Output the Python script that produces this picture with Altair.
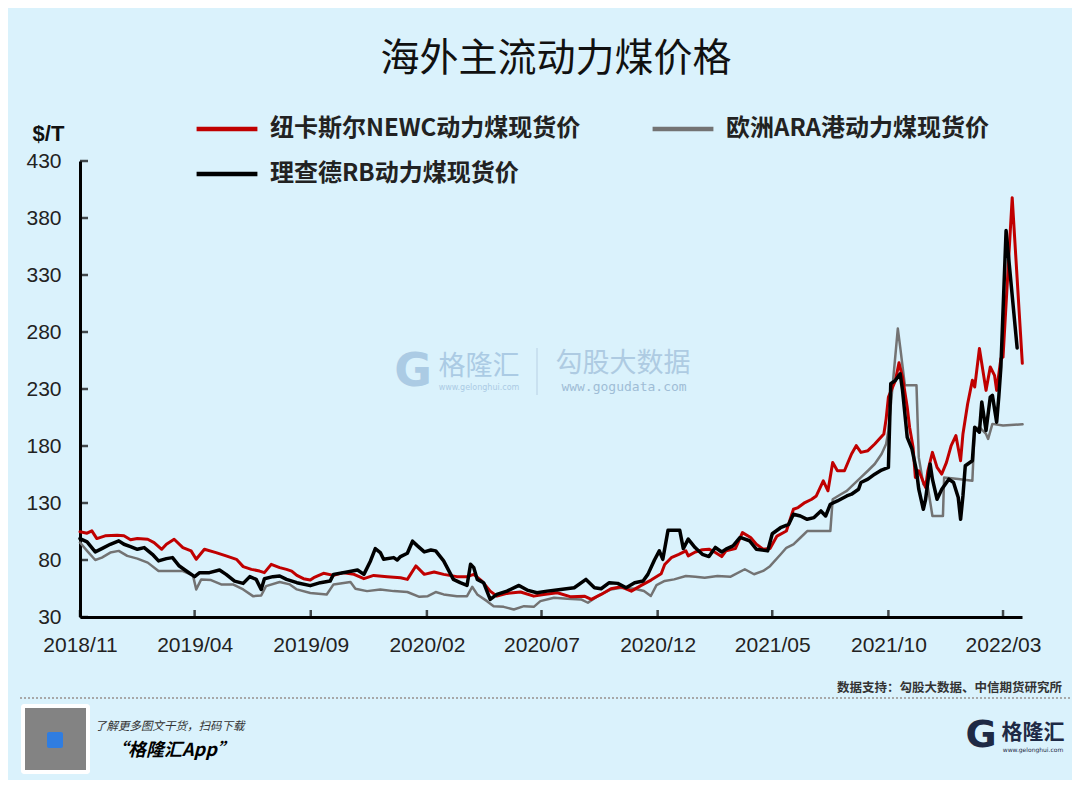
import altair as alt
import pandas as pd
import calendar

S_NEWC = "纽卡斯尔NEWC动力煤现货价"
S_ARA = "欧洲ARA港动力煤现货价"
S_RB = "理查德RB动力煤现货价"

# x positions are months elapsed since 2018-11-01
newc_months = [0, 0.31, 0.52, 0.74, 1.10, 1.61, 1.90, 2.18, 2.47, 2.91, 3.20, 3.56, 3.78, 4.13, 4.50,
               4.85, 5.07, 5.43, 5.94, 6.37, 6.81, 7.10, 7.46, 7.82, 8.03, 8.32, 8.68, 8.97, 9.19, 9.41,
               9.69, 9.98, 10.13, 10.56, 11.0, 11.43, 11.87, 12.30, 12.73, 13.31, 13.88, 14.17, 14.53,
               14.89, 15.33, 15.76, 16.34, 16.77, 17.06, 17.42, 17.78, 18.07, 18.5, 19.08, 19.66, 20.09,
               20.67, 21.25, 21.82, 22.12, 22.55, 22.98, 23.42, 23.85, 24.28, 24.71, 25.15, 25.3, 25.58,
               25.9, 26.2, 26.3, 26.6, 26.9, 27.2, 27.5, 27.8, 28.0, 28.4, 28.7, 29.05, 29.3, 29.6, 29.9,
               30.2, 30.6, 30.9, 31.1, 31.4, 31.7, 31.9, 32.2, 32.4, 32.6, 32.8, 33.1, 33.4, 33.6, 33.8,
               34.1, 34.4, 34.8, 34.9, 35.0, 35.3, 35.45, 35.6, 35.8, 35.9, 36.05, 36.15, 36.3, 36.6,
               36.7, 36.9, 37.1, 37.3, 37.5, 37.7, 37.9, 38.1, 38.2, 38.4, 38.6, 38.7, 38.9, 39.2, 39.4,
               39.6, 39.7, 39.9, 40.0, 40.39, 40.82]
newc_price = [104.7, 103.5, 105.6, 98.8, 101.2, 101.8, 101.2, 97.7, 98.8, 98.2, 95.3, 89.4, 93.8, 98.2,
              90.9, 88, 80.6, 89.4, 86.5, 83.6, 80.6, 74.2, 71.8, 70.3, 68.9, 76.2, 73.3, 71.8, 70.3, 66.5,
              63.6, 62.4, 64.5, 68.3, 66.5, 68.9, 67.4, 63.6, 66.5, 65.4, 64.5, 63, 74.8, 67.4, 69.5, 67.4,
              65.4, 65.4, 67.4, 61.5, 52.7, 48.3, 50.7, 51.9, 48.3, 49.8, 51.3, 47.7, 48.3, 45.4, 49.8,
              54.8, 56.5, 52.7, 57.7, 62.4, 68, 76, 82, 85, 88, 83.6, 87, 89, 89.5, 86.6, 83, 88, 90, 104,
              99.8, 93.9, 89.5, 90, 101, 105.4, 124.5, 126, 130.4, 133.3, 136.2, 149.5, 140.7, 165.6,
              158.3, 158.3, 173, 180.3, 174.4, 175.9, 181.8, 190.6, 203.8, 222.9, 237.6, 253, 240.5, 214,
              196.5, 178.8, 152.4, 158.3, 143.6, 158.3, 174.4, 161.2, 155.4, 165.6, 180.3, 189.1, 167.1,
              190.6, 217, 237.6, 231.7, 265.5, 228.8, 249.3, 242, 228.8, 256.7, 258, 397.8, 252.5]

ara_months = [0, 0.31, 0.67, 0.96, 1.32, 1.68, 2.04, 2.47, 2.91, 3.41, 3.92, 4.50, 4.93, 5.07, 5.29,
              5.72, 6.16, 6.66, 7.10, 7.53, 7.89, 8.10, 8.68, 9.11, 9.41, 9.98, 10.70, 11.0, 11.72,
              11.93, 12.44, 13.02, 13.59, 14.17, 14.68, 15.04, 15.40, 15.76, 16.34, 16.77, 16.99, 17.21,
              17.64, 17.93, 18.36, 18.79, 19.23, 19.66, 19.95, 20.53, 21.10, 21.68, 21.97, 22.40, 22.98,
              23.42, 23.99, 24.4, 24.7, 24.95, 25.3, 25.7, 26.2, 26.6, 27.0, 27.6, 28.2, 28.8, 29.2,
              29.6, 29.9, 30.35, 30.6, 30.9, 31.2, 31.5, 32.5, 32.6, 32.95, 33.2, 33.5, 33.8, 34.1, 34.4,
              34.7, 34.9, 35.0, 35.2, 35.4, 35.5, 35.7, 36.2, 36.3, 36.5, 36.7, 36.9, 37.35, 37.4, 38.0,
              38.6, 38.7, 38.9, 39.2, 39.3, 39.5, 40.0, 40.83]
ara_price = [95.3, 88, 80, 82.1, 86.5, 88, 83.6, 81.2, 77.7, 70.3, 70.3, 70.3, 66.5, 54.2, 63, 62.4,
             58.6, 58.6, 54.2, 48.3, 48.9, 57.1, 60.7, 58.6, 54.2, 51, 49.8, 58.6, 60.7, 54.8, 52.7, 54.2,
             52.7, 51.9, 47.7, 48.3, 51.9, 49.8, 48.3, 48.3, 56.5, 49.8, 43.9, 39.5, 38.9, 36.6, 39.5,
             38.9, 43.9, 46.9, 46, 45.4, 42.5, 48.3, 54.2, 55.7, 54.8, 52.8, 48.4, 58, 61.6, 63, 66, 65.4,
             64.5, 66, 65.4, 71.9, 67.5, 70.4, 74.6, 84.8, 90.7, 93.7, 99.5, 105.4, 105.4, 133.3, 137.7,
             140.7, 146.5, 152.4, 158.3, 164.2, 173, 181.8, 193.5, 237.6, 283, 267, 233.2, 233.2, 170,
             146.5, 143.6, 118.6, 118.6, 152.4, 151, 149.5, 195, 196.5, 190.6, 186.2, 199.4, 198, 199]

rb_months = [0, 0.31, 0.67, 0.96, 1.32, 1.68, 1.90, 2.18, 2.47, 2.76, 3.12, 3.41, 3.78, 4.06, 4.35,
             4.71, 5.00, 5.22, 5.65, 6.09, 6.37, 6.73, 7.10, 7.39, 7.67, 7.89, 8.03, 8.39, 8.68, 8.97,
             9.41, 9.98, 10.42, 10.85, 11.0, 11.58, 12.02, 12.30, 12.59, 12.80, 13.02, 13.16, 13.59,
             13.74, 13.88, 14.17, 14.39, 14.60, 14.89, 15.18, 15.40, 15.76, 16.19, 16.48, 16.77, 16.92,
             17.06, 17.21, 17.49, 17.78, 18.07, 18.50, 19.01, 19.37, 19.80, 20.24, 20.81, 21.39, 21.89,
             22.26, 22.55, 22.91, 23.27, 23.63, 23.99, 24.36, 24.57, 24.86, 25.07, 25.22, 25.44, 25.94,
             26.09, 26.30, 26.59, 26.9, 27.2, 27.5, 27.8, 28.0, 28.3, 28.6, 29.0, 29.3, 29.8, 30.0,
             30.35, 30.7, 30.9, 31.2, 31.5, 31.8, 32.1, 32.3, 32.5, 32.8, 33.2, 33.4, 33.7, 33.8, 34.1,
             34.4, 34.7, 35.0, 35.1, 35.3, 35.5, 35.6, 35.8, 36.0, 36.2, 36.3, 36.5, 36.6, 36.8, 36.9,
             37.1, 37.3, 37.6, 37.8, 38.0, 38.1, 38.2, 38.3, 38.6, 38.7, 38.9, 39.0, 39.2, 39.4, 39.5,
             39.7, 39.8, 39.9, 40.13, 40.6]
rb_price = [98.8, 95.9, 87.1, 90, 93.8, 96.8, 93.8, 91.8, 89.4, 90.9, 85, 79.2, 81.2, 82.1, 74.7, 69.5,
            65.4, 68.9, 68.9, 71.2, 67.4, 61.5, 59.5, 65.4, 63, 54.2, 63.6, 65.4, 66, 63, 60.1, 57.5,
            60.1, 61.5, 67.4, 69.5, 71.2, 67.4, 79.2, 90, 86.5, 80.6, 82.1, 80, 83, 85.9, 96.5, 92.4,
            87.1, 88.8, 88, 79.2, 63, 60.1, 57.7, 76.2, 73.3, 63, 60.1, 45.4, 49.8, 52.7, 57.7, 53.6,
            51.3, 52.7, 54.2, 55.7, 63, 55.7, 54.8, 60.1, 59.5, 55.7, 60.1, 61.5, 67.4, 80, 88, 80.6,
            106, 106, 90, 98.3, 90.9, 85, 83, 91, 87, 89.5, 92.4, 99.8, 96.9, 89.5, 88, 103, 108.3,
            111.3, 120.1, 118.6, 115.7, 117.2, 123, 118.6, 128.9, 131.8, 136.2, 137.7, 142.1, 148,
            150.9, 155.3, 158.9, 161.2, 234.6, 237.6, 243.4, 228.8, 187.6, 177.4, 158.3, 142.1, 124.5,
            133.3, 164.2, 150.9, 133.3, 142.1, 150.9, 148, 134.8, 115.7, 136.2, 162.7, 167.1, 196.5,
            192.1, 218.5, 193.5, 222.9, 224.4, 200.9, 222.9, 249.3, 369, 266]

x_tick_dates = ["2018-11-01", "2019-04-01", "2019-09-01", "2020-02-01", "2020-07-01",
                "2020-12-01", "2021-05-01", "2021-10-01", "2022-03-01"]
y_tick_values = [30, 80, 130, 180, 230, 280, 330, 380, 430]

# legend is filled column by column: NEWC / RB in the first column, ARA in the second
legend_order = [S_NEWC, S_RB, S_ARA]
legend_colors = ["#c00000", "#000000", "#737373"]

FONT_CJK = "Noto Sans CJK SC"
FONT_NUM = "Liberation Sans"


def month_to_ts(m):
    k = int(m)
    frac = m - k
    year = 2018 + (10 + k) // 12
    month = (10 + k) % 12 + 1
    days = calendar.monthrange(year, month)[1]
    ts = pd.Timestamp(year, month, 1) + pd.Timedelta(days=frac * days)
    return ts.strftime("%Y-%m-%dT%H:%M:%S")


def frame(months, prices, name):
    return pd.DataFrame({"date": [month_to_ts(m) for m in months], "price": prices, "series": name})


df_newc = frame(newc_months, newc_price, S_NEWC)
df_ara = frame(ara_months, ara_price, S_ARA)
df_rb = frame(rb_months, rb_price, S_RB)


def dt(s):
    y, m, d = [int(v) for v in s.split("-")]
    return alt.DateTime(year=y, month=m, date=d)


X = alt.X("date:T",
          scale=alt.Scale(domain=[dt("2018-11-01"), dt("2022-03-26")]),
          axis=alt.Axis(values=[dt(s) for s in x_tick_dates], format="%Y/%m", title=None,
                        labelFont=FONT_NUM, labelFontSize=21, labelColor="#222222",
                        labelPadding=17, tickSize=0, domainColor="#000000", domainWidth=3,
                        grid=False, labelFlush=False, labelOverlap=False))
Y = alt.Y("price:Q",
          scale=alt.Scale(domain=[30, 430], nice=False, zero=False),
          axis=alt.Axis(values=y_tick_values, title="$/T", titleAngle=0, titleX=-32, titleY=-28,
                        titleAlign="center", titleBaseline="middle", titleFont=FONT_NUM,
                        titleFontSize=22, titleFontWeight="bold", titleColor="#111111",
                        labelFont=FONT_NUM, labelFontSize=21, labelColor="#222222",
                        labelPadding=19, tickSize=0, domainColor="#000000", domainWidth=3,
                        grid=False))

legend = alt.Legend(orient="none", legendX=114, legendY=-65, columns=2, title=None,
                    symbolType="stroke", symbolSize=3700, symbolStrokeWidth=4.5,
                    labelFont=FONT_CJK, labelFontSize=24, labelFontWeight="bold",
                    labelColor="#222222", labelLimit=600, labelOffset=10,
                    columnPadding=62, rowPadding=-2, padding=0)
C = alt.Color("series:N", scale=alt.Scale(domain=legend_order, range=legend_colors), legend=legend)


def line_layer(df, sw):
    return alt.Chart(df).mark_line(strokeWidth=sw, strokeJoin="round", strokeCap="round").encode(
        x=X, y=Y, color=C)


ticks_x = alt.Chart(pd.DataFrame({"date": [s + "T00:00:00" for s in x_tick_dates],
                                  "price": [30] * len(x_tick_dates)})).mark_tick(
    orient="vertical", size=7, thickness=2.5, color="#000000", yOffset=-3.5).encode(x=X, y=Y)
ticks_y = alt.Chart(pd.DataFrame({"date": [x_tick_dates[0] + "T00:00:00"] * len(y_tick_values),
                                  "price": y_tick_values})).mark_tick(
    orient="horizontal", size=8, thickness=2.5, color="#000000", xOffset=4).encode(x=X, y=Y)

one = pd.DataFrame({"k": [0]})


def txt(text, x, y, size, color="#000000", font=FONT_CJK, weight="normal", align="center",
        style="normal", opacity=1.0):
    return alt.Chart(one).mark_text(text=text, fontSize=size, font=font, fontWeight=weight,
                                    align=align, baseline="middle", color=color, fontStyle=style,
                                    opacity=opacity).encode(x=alt.value(x), y=alt.value(y))


def box(x, x2, y, y2, color, radius=0, opacity=1.0):
    return alt.Chart(one).mark_rect(color=color, cornerRadius=radius, opacity=opacity).encode(
        x=alt.value(x), x2=alt.value(x2), y=alt.value(y), y2=alt.value(y2))


# offsets: plot origin is at page (80, 161)
title = txt("海外主流动力煤价格", 476, -102, 39, color="#111111")

wm_color = "#abcbe4"
watermark = [
    txt("G", 333, 211, 46, color=wm_color, font="DejaVu Sans", weight="bold"),
    txt("格隆汇", 399, 206, 27, color=wm_color),
    txt("www.gelonghui.com", 399, 227, 8, color=wm_color, font="DejaVu Sans"),
    alt.Chart(one).mark_rule(color="#c3dbec", strokeWidth=1.5).encode(
        x=alt.value(457), y=alt.value(187), y2=alt.value(234)),
    txt("勾股大数据", 543, 203, 27, color="#aecbe2"),
    txt("www.gogudata.com", 544, 226, 13, color="#9fbdd6", font="DejaVu Sans Mono"),
]

footer = [
    txt("数据支持：勾股大数据、中信期货研究所", 982, 527, 12.5, color="#333333", weight="bold",
        align="right"),
    alt.Chart(one).mark_rule(color="#a8a8a8", strokeWidth=2, strokeDash=[2, 2]).encode(
        x=alt.value(-60), x2=alt.value(990), y=alt.value(537)),
    box(-59, 10, 543, 613, "#ffffff", radius=3),
    box(-55, 6, 547, 609, "#5a5a5a", opacity=0.75),
    box(-33, -17, 571, 587, "#2f7de1", radius=2),
    txt("了解更多图文干货，扫码下载", 15, 566, 11.5, color="#333333", align="left", style="italic"),
    txt("“格隆汇App”", 30, 590, 18, color="#000000", weight="bold", align="left", style="italic"),
    txt("G", 901, 575, 38, color="#1e2a45", font="DejaVu Sans", weight="bold"),
    txt("格隆汇", 953, 572, 21, color="#1e2a45", weight="bold"),
    txt("www.gelonghui.com", 953, 589, 6, color="#1e2a45", font="DejaVu Sans"),
]

chart = alt.layer(
    line_layer(df_ara, 2.5),
    line_layer(df_newc, 3.0),
    line_layer(df_rb, 3.5),
    ticks_x, ticks_y,
    title, *watermark, *footer,
).properties(
    width=942, height=456,
    padding={"left": 72, "top": 153, "right": 50, "bottom": 163},
    autosize=alt.AutoSizeParams(type="none"),
    background="#daf2fc",
).configure_view(stroke=None)

chart.save("out.html", embed_options={"renderer": "svg", "actions": False})
